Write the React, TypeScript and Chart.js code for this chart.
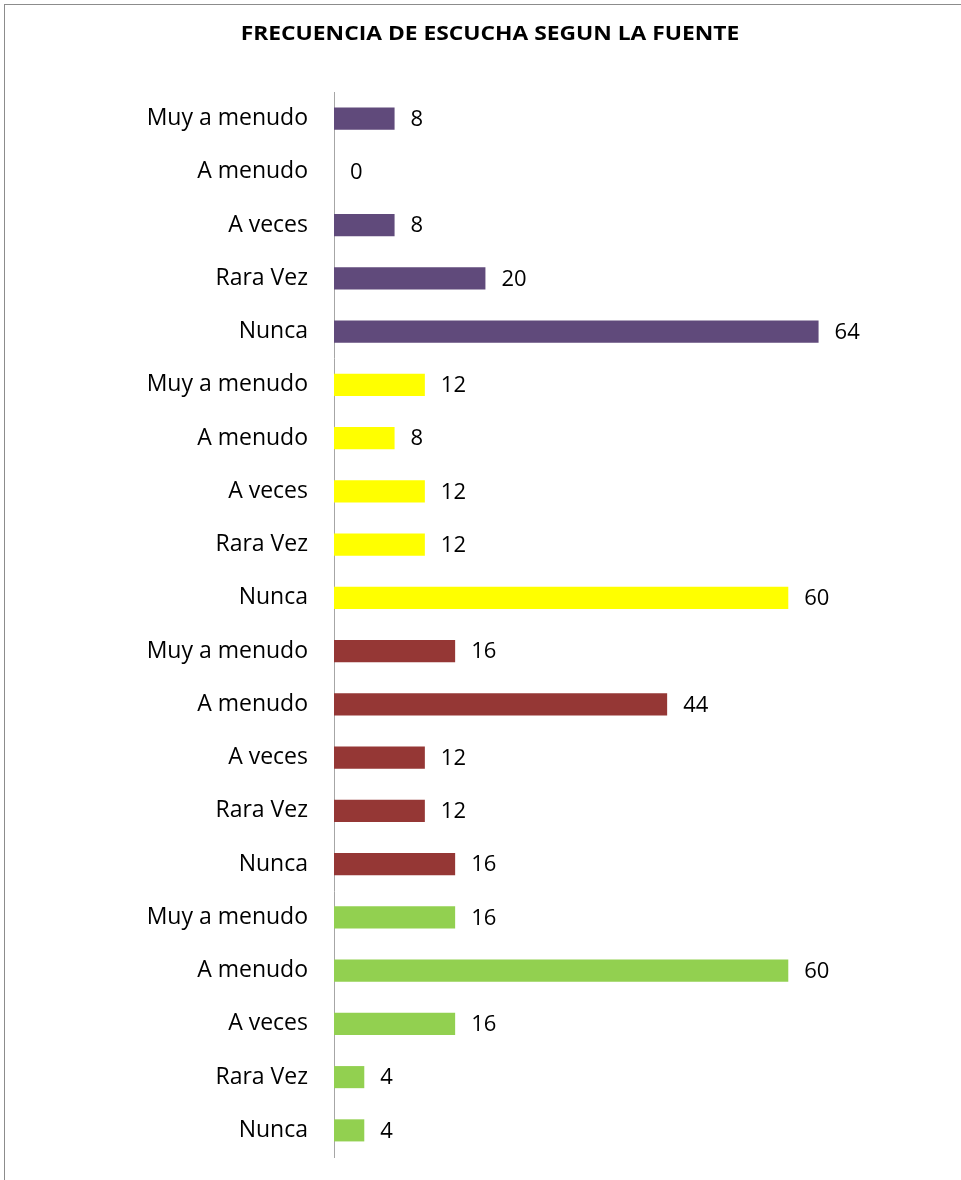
import React, { useEffect, useRef } from "react";
import { Chart, registerables } from "chart.js";

Chart.register(...registerables);

const TITLE = "FRECUENCIA DE ESCUCHA SEGUN LA FUENTE";
const categories = [
  "Muy a menudo", "A menudo", "A veces", "Rara Vez", "Nunca",
  "Muy a menudo", "A menudo", "A veces", "Rara Vez", "Nunca",
  "Muy a menudo", "A menudo", "A veces", "Rara Vez", "Nunca",
  "Muy a menudo", "A menudo", "A veces", "Rara Vez", "Nunca",
];
const values = [8, 0, 8, 20, 64, 12, 8, 12, 12, 60, 16, 44, 12, 12, 16, 16, 60, 16, 4, 4];
const groupColors = ["#604A7B", "#FFFF00", "#953735", "#92D050"];
const barColors = values.map((_, i) => groupColors[Math.floor(i / 5)]);

const FONT = "'Open Sans', sans-serif";

const decorPlugin = {
  id: "decor",
  afterDraw(chart: any) {
    const ctx = chart.ctx;
    ctx.save();
    // frame
    ctx.strokeStyle = "#8c8c8c";
    ctx.lineWidth = 1;
    ctx.strokeRect(4.5, 4.5, chart.width + 20, chart.height + 20);
    // title (slightly widened)
    ctx.fillStyle = "#000";
    ctx.font = `bold 19px ${FONT}`;
    ctx.textAlign = "center";
    ctx.textBaseline = "middle";
    ctx.save();
    ctx.translate(490, 35);
    ctx.scale(1.2, 1);
    ctx.fillText(TITLE, 0, 0);
    ctx.restore();
    // value labels
    ctx.font = `22px ${FONT}`;
    ctx.textAlign = "left";
    const meta = chart.getDatasetMeta(0);
    meta.data.forEach((bar: any, i: number) => {
      ctx.fillText(String(values[i]), bar.x + 16, bar.y + 1);
    });
    ctx.restore();
  },
};

export default function App() {
  const ref = useRef<HTMLCanvasElement>(null);
  useEffect(() => {
    const chart = new Chart(ref.current!, {
      type: "bar",
      data: {
        labels: categories,
        datasets: [
          {
            data: values,
            backgroundColor: barColors,
            barPercentage: 0.83,
            categoryPercentage: 0.5,
          },
        ],
      },
      options: {
        indexAxis: "y",
        animation: false,
        responsive: false,
        layout: { padding: { top: 92, bottom: 23, left: 0, right: 97 } },
        plugins: { legend: { display: false }, tooltip: { enabled: false } },
        scales: {
          x: { display: false, min: 0, max: 70 },
          y: {
            afterFit(scale: any) {
              scale.width = 334;
              scale.paddingTop = 0;
              scale.paddingBottom = 0;
            },
            grid: { display: false, drawTicks: false },
            border: { display: true, color: "#a6a6a6", width: 1 },
            ticks: {
              padding: 26,
              color: "#000",
              font: { family: FONT, size: 23 },
            },
          },
        },
      },
      plugins: [decorPlugin],
    });
    return () => chart.destroy();
  }, []);
  return (
    <div style={{ position: "absolute", left: 0, top: 0, width: 961, height: 1180, overflow: "hidden", background: "#fff" }}>
      <canvas ref={ref} width={961} height={1180} style={{ display: "block" }} />
    </div>
  );
}
